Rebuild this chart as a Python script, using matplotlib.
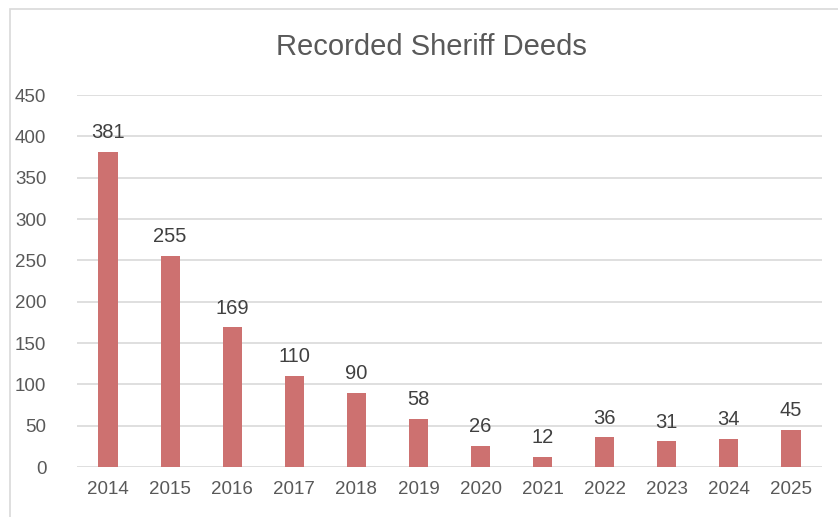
import matplotlib
matplotlib.use("Agg")
import matplotlib.pyplot as plt
import matplotlib.patches as patches

years = ["2014", "2015", "2016", "2017", "2018", "2019",
         "2020", "2021", "2022", "2023", "2024", "2025"]
deeds = [381, 255, 169, 110, 90, 58, 26, 12, 36, 31, 34, 45]
yticks = [0, 50, 100, 150, 200, 250, 300, 350, 400, 450]

plt.rcParams['font.family'] = ['Liberation Sans', 'DejaVu Sans']
text_color = '#595959'

fig = plt.figure(figsize=(8.38, 5.17), dpi=100)
# chart frame (cropped on right and bottom, like the screenshot)
fig.patches.append(patches.Rectangle((10 / 838, -0.1), 1.2, 1 - 9 / 517 + 0.1,
                                     transform=fig.transFigure, fill=False,
                                     edgecolor='#D9D9D9', lw=1.2))

ax = fig.add_axes([77 / 838, (517 - 467) / 517, (822 - 77) / 838, (467 - 95) / 517])

x = range(len(years))
bars = ax.bar(x, deeds, width=0.31, color='#CD7170', zorder=3)
for rect, v in zip(bars, deeds):
    ax.annotate(str(v), (rect.get_x() + rect.get_width() / 2, v),
                xytext=(0, 7), textcoords='offset points', ha='center', va='bottom',
                fontsize=14.5, color='#404040')

ax.set_xlim(-0.5, len(years) - 0.5)
ax.set_ylim(0, 450)
ax.set_yticks(yticks)
ax.set_xticks(list(x))
ax.set_xticklabels(years)
ax.yaxis.grid(True, color='#D9D9D9', lw=1.2, zorder=0)
ax.tick_params(axis='both', length=0, labelsize=13.5, labelcolor=text_color)
ax.tick_params(axis='y', pad=22)
ax.tick_params(axis='x', pad=10)
for s in ax.spines.values():
    s.set_visible(False)

fig.text(431 / 838, 1 - 47 / 517, "Recorded Sheriff Deeds", ha='center', va='center',
         fontsize=21, color=text_color)

fig.savefig("out.png", dpi=100)
